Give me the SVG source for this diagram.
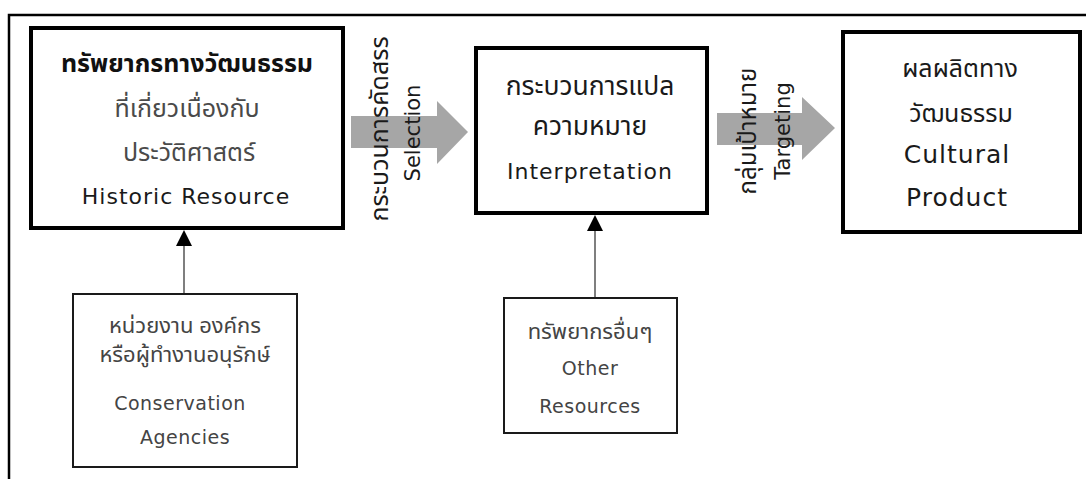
<svg xmlns="http://www.w3.org/2000/svg" width="1086" height="479" viewBox="0 0 1086 479">
<style>
.t{font-family:"Open Sans","Noto Sans Thai","Noto Sans",sans-serif;text-anchor:middle;fill:#1a1a1a}
.l{font-family:"DejaVu Sans","Liberation Sans",sans-serif;text-anchor:middle;fill:#1a1a1a}
.big{font-size:22px;letter-spacing:1px}
.big3{font-size:25px;letter-spacing:1px}
.th{font-size:25px}
.th2{font-size:26.5px}
.sm{font-size:19px;letter-spacing:0.5px;fill:#444}
.smth{font-size:22px;fill:#444}
.g{fill:#4a4a4a}
.b{font-weight:bold;fill:#111}
.main{fill:#fff;stroke:#000;stroke-width:4}
.sub{fill:#fff;stroke:#1a1a1a;stroke-width:2}
.arr{fill:#a6a6a6}
.rot{font-size:21px}
.rotth{font-size:25px}
.rotth2{font-size:24px}
</style>
<path d="M9,479 V15 H1086" fill="none" stroke="#000" stroke-width="2.5"/>
<g id="connectors">
<polygon class="arr" points="351,116 437,116 437,101 468,132 437,164 437,148 351,148"/>
<polygon class="arr" points="717,113 802,113 802,97 835,128 802,160 802,145 717,145"/>
<line x1="184" y1="294" x2="184" y2="246" stroke="#555" stroke-width="1.5"/>
<polygon points="184,230 176,246 192,246" fill="#000"/>
<line x1="595" y1="298" x2="595" y2="231" stroke="#555" stroke-width="1.5"/>
<polygon points="595,215 587,231 603,231" fill="#000"/>
<text class="t rotth" x="388" y="129" transform="rotate(-90 388 129)">กระบวนการคัดสรร</text>
<text class="l rot" x="420" y="133" transform="rotate(-90 420 133)">Selection</text>
<text class="t rotth2" x="756" y="131" transform="rotate(-90 756 131)">กลุ่มเป้าหมาย</text>
<text class="l rot" x="790" y="131" transform="rotate(-90 790 131)">Targeting</text>
</g>
<g id="historic">
<rect class="main" x="31" y="28" width="312" height="200"/>
<text class="t th b" x="187" y="72">ทรัพยากรทางวัฒนธรรม</text>
<text class="t th g" x="187" y="117">ที่เกี่ยวเนื่องกับ</text>
<text class="t th g" x="189" y="161">ประวัติศาสตร์</text>
<text class="l big" x="186" y="204">Historic Resource</text>
</g>
<g id="interpretation">
<rect class="main" x="476" y="48" width="231" height="165"/>
<text class="t th2" x="590" y="95">กระบวนการแปล</text>
<text class="t th2" x="590" y="135">ความหมาย</text>
<text class="l big" x="590" y="179">Interpretation</text>
</g>
<g id="product">
<rect class="main" x="843" y="32" width="237" height="200"/>
<text class="t th" x="960" y="77">ผลผลิตทาง</text>
<text class="t th" x="961" y="122">วัฒนธรรม</text>
<text class="l big3" x="957" y="163">Cultural</text>
<text class="l big3" x="957" y="206">Product</text>
</g>
<g id="agencies">
<rect class="sub" x="73" y="294" width="224" height="173"/>
<text class="t smth" x="185" y="333">หน่วยงาน องค์กร</text>
<text class="t smth" x="185" y="362">หรือผู้ทำงานอนุรักษ์</text>
<text class="l sm" x="180" y="410">Conservation</text>
<text class="l sm" x="185" y="444">Agencies</text>
</g>
<g id="other">
<rect class="sub" x="504" y="298" width="173" height="135"/>
<text class="t smth" x="590" y="339">ทรัพยากรอื่นๆ</text>
<text class="l sm" x="590" y="375">Other</text>
<text class="l sm" x="590" y="413">Resources</text>
</g>
</svg>
